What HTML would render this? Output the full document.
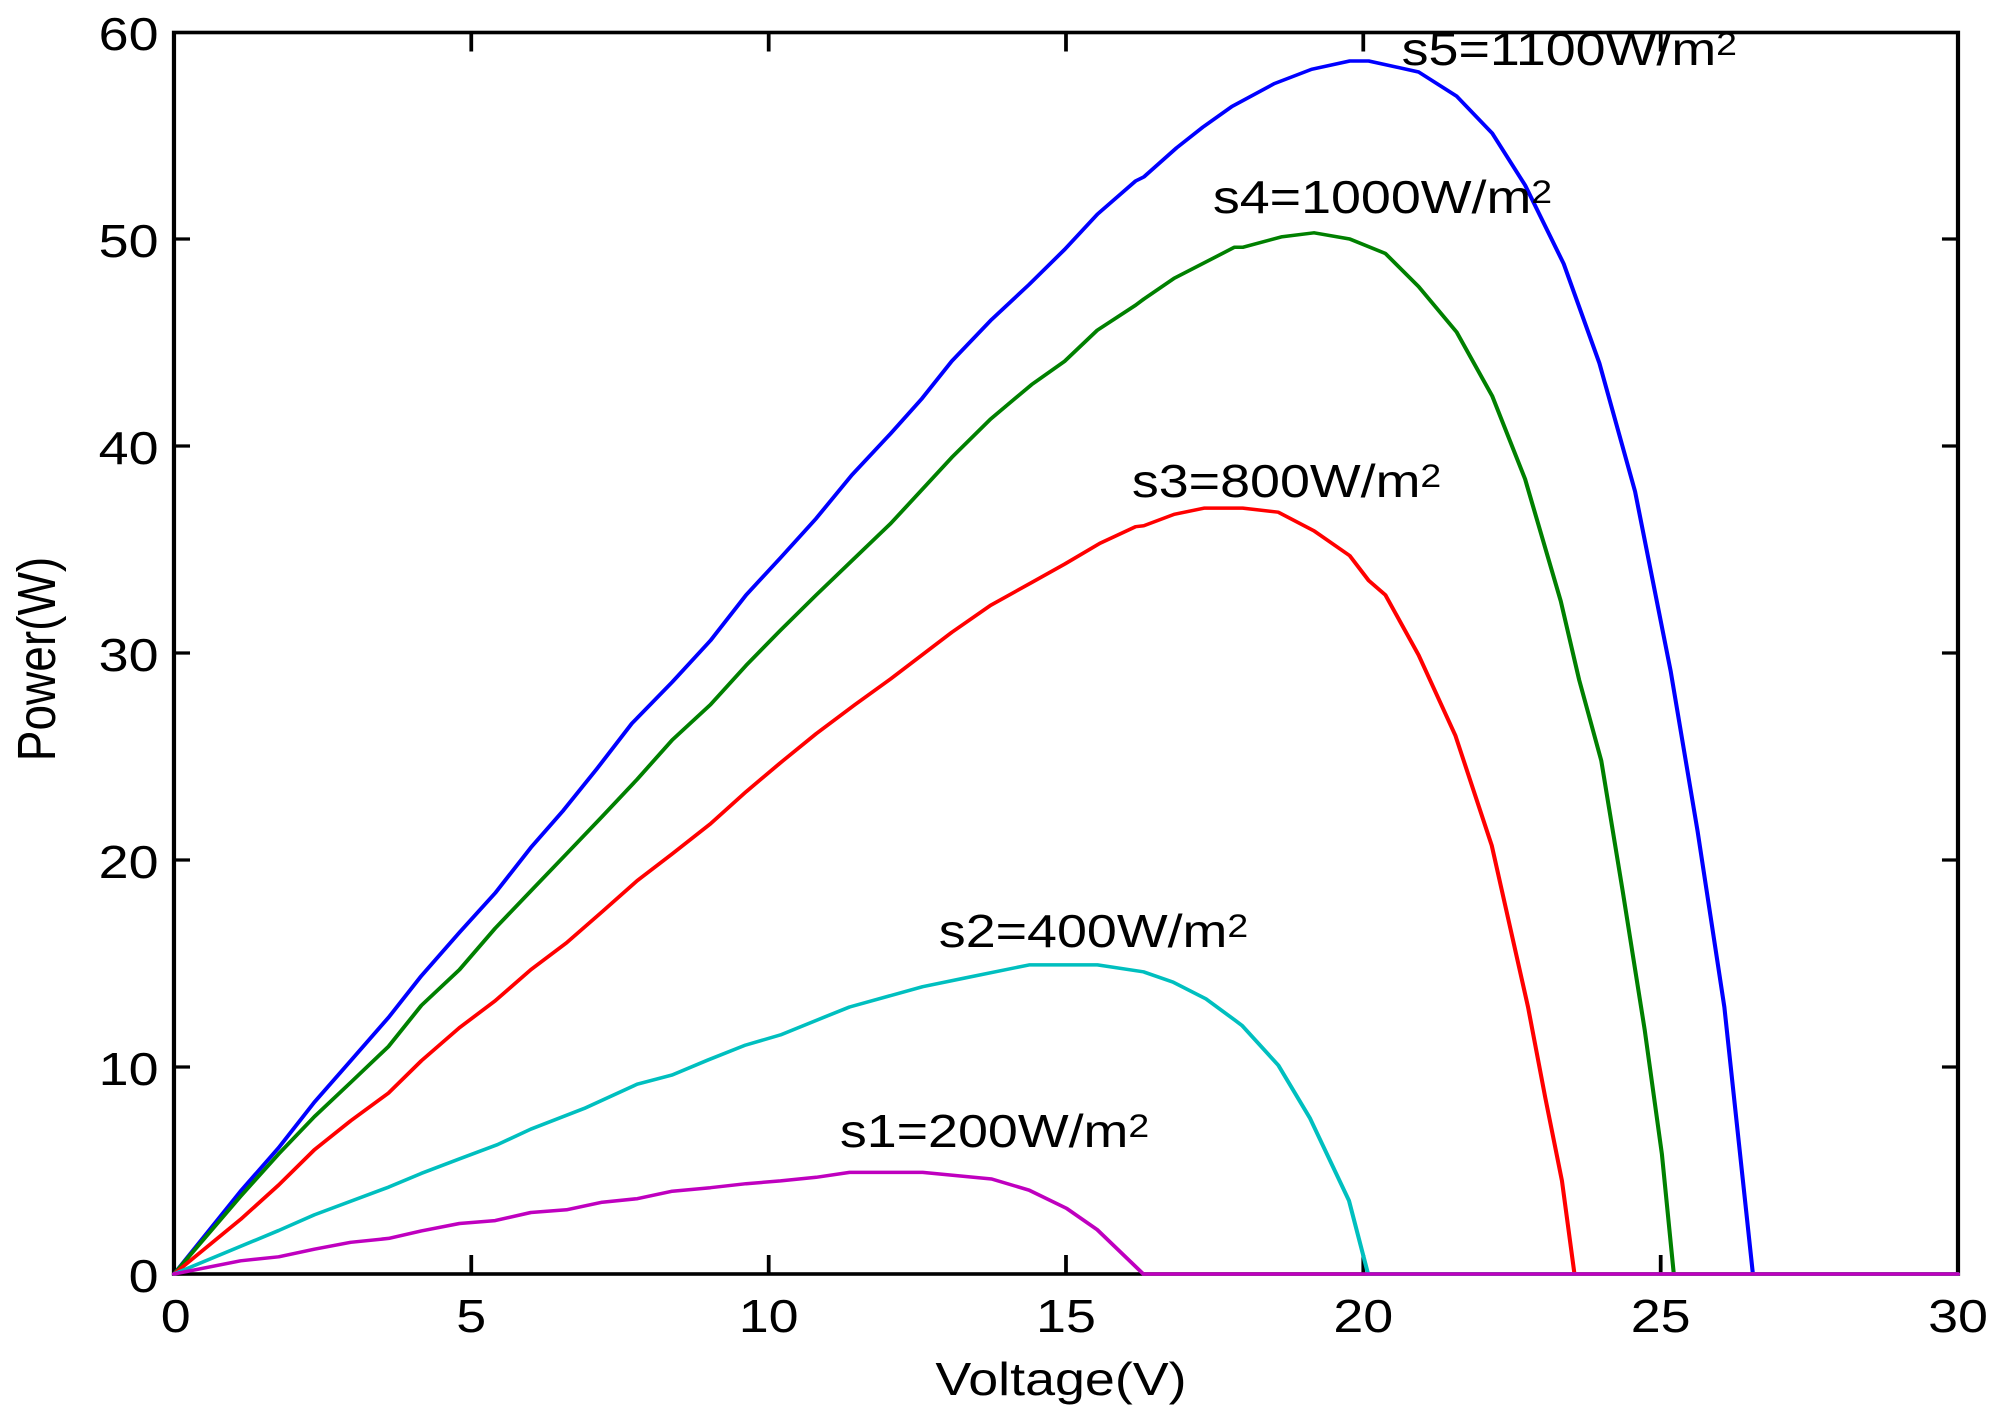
<!DOCTYPE html>
<html>
<head>
<meta charset="utf-8">
<style>
html,body{margin:0;padding:0;background:#fff;}
svg{display:block;}
text{font-family:"Liberation Sans",Arial,sans-serif;fill:#000;}
</style>
</head>
<body>
<svg width="2000" height="1420" viewBox="0 0 1709.4 1420" preserveAspectRatio="none" xmlns="http://www.w3.org/2000/svg">
<rect x="0" y="0" width="1709.4" height="1420" fill="#fff"/>
<!-- axes box -->
<rect x="148.7" y="32.5" width="1524.8" height="1241.5" fill="none" stroke="#000" stroke-width="3.6"/>
<!-- ticks -->
<g stroke="#000" stroke-width="3.2">
<path d="M402.8 1274V1255M657 1274V1255M911.1 1274V1255M1165.2 1274V1255M1419.4 1274V1255"/>
<path d="M402.8 32.5V51.5M657 32.5V51.5M911.1 32.5V51.5M1165.2 32.5V51.5M1419.4 32.5V51.5"/>
<path d="M148.7 1067H162.4M148.7 860H162.4M148.7 653H162.4M148.7 446H162.4M148.7 239H162.4"/>
<path d="M1673.5 1067H1659.8M1673.5 860H1659.8M1673.5 653H1659.8M1673.5 446H1659.8M1673.5 239H1659.8"/>
</g>
<!-- y tick labels -->
<g font-size="46" text-anchor="end">
<text x="135.5" y="1292">0</text>
<text x="135.5" y="1085">10</text>
<text x="135.5" y="878">20</text>
<text x="135.5" y="671">30</text>
<text x="135.5" y="464">40</text>
<text x="135.5" y="257">50</text>
<text x="135.5" y="50">60</text>
</g>
<!-- x tick labels -->
<g font-size="46" text-anchor="middle">
<text x="150.2" y="1332">0</text>
<text x="402.8" y="1332">5</text>
<text x="657" y="1332">10</text>
<text x="911.1" y="1332">15</text>
<text x="1165.2" y="1332">20</text>
<text x="1419.4" y="1332">25</text>
<text x="1673.5" y="1332">30</text>
</g>
<!-- axis labels -->
<text x="906.8" y="1395" font-size="46" text-anchor="middle">Voltage(V)</text>
<text x="47" y="659" font-size="46" text-anchor="middle" transform="rotate(-90 47 659)">Power(W)</text>

<g fill="none" stroke-width="3.5" stroke-linejoin="round" stroke-linecap="round">
<!-- s5 blue -->
<polyline stroke="#0000ff" points="148.7,1274 205.6,1191.2 238.2,1147.7 268.7,1102.2 299.7,1060.8 332.2,1017.3 360.1,975.9 392.7,932.4 423.2,893.1 453.7,847.6 481.6,810.3 510.1,768.9 540.1,723.4 574.6,682 607.2,640.6 637.7,595 667.1,557.8 697.6,518.4 728.1,475 761.2,433.6 788.1,398.4 813.5,361.1 846.6,320.6 879.6,284.5 910.1,249.3 938,214.2 970.6,181 977.7,176.9 1005.6,147.9 1028,127.2 1052.9,106.5 1089,83.7 1121,69.3 1153.6,61 1169.8,61 1212.5,72 1245,96.2 1275.5,133.4 1303.5,185.2 1336.5,263.8 1367,363.2 1397.5,491.5 1428,671.6 1450.9,831 1473.8,1007 1498.2,1274 1673.5,1274"/>
<!-- s4 green -->
<polyline stroke="#008000" points="148.7,1274 205.6,1196.4 238.2,1153.9 268.7,1116.7 299.7,1082.5 332.2,1046.3 360.1,1005.5 392.7,969.7 423.2,928.3 453.7,891 484.2,853.8 514.7,816.5 544.6,779.3 574.6,739.9 607.2,704.7 637.7,665.4 667.1,630.2 697.6,595 730.7,557.8 761.2,523.6 813.5,457.4 846.6,419.1 881.6,384.7 910.1,361.1 938,330.1 970.6,305.2 977.7,299 1003.6,278.3 1055,247.3 1062.1,247.3 1095.1,236.9 1123.1,232.8 1153.6,239 1184.1,253.5 1212.5,286.6 1245,332.1 1275.5,396.3 1303.5,479.1 1334,601.2 1349.7,679.9 1368.6,760.6 1386.9,891 1405.7,1029.7 1420.4,1153.9 1430.6,1274 1673.5,1274"/>
<!-- s3 red -->
<polyline stroke="#ff0000" points="148.7,1274 205.6,1219.4 238.2,1185 268.7,1149.8 299.7,1120.8 332.2,1092.9 360.1,1060.8 392.7,1027.7 423.2,1000.8 453.7,969.7 484.2,942.8 514.7,911.7 544.6,880.7 574.6,853.8 607.2,823.8 637.7,791.7 667.1,762.7 697.6,733.7 730.7,704.7 761.2,678.9 813.5,632.3 846.6,605.4 881.6,582.6 910.1,564 940.1,543.3 970.6,526.7 977.7,525.7 1003.6,514.3 1029.5,508.1 1062.1,508.1 1092.6,512.2 1123.1,530.9 1153.6,555.7 1169.8,580.5 1184.1,595 1212.5,655.1 1244,735.8 1275,845.5 1306,1007 1320.8,1098 1335,1180.8 1345.7,1274 1673.5,1274"/>
<!-- s2 cyan -->
<polyline stroke="#00bfbf" points="148.7,1274 238.2,1230.5 268.7,1214.8 332.2,1187.1 360.1,1173.4 392.7,1158.9 425.2,1144.6 453.7,1129.1 499.4,1108.4 544.6,1084.2 574.6,1074.9 605.1,1060 637.2,1045.1 667.1,1034.9 699.7,1019.4 726.1,1007 788.6,986.7 824.7,978 879.6,964.9 938,964.9 977.2,971.8 1002.6,982.1 1030.5,998.7 1055.5,1020.2 1061.6,1025.6 1092.6,1065.3 1119.5,1117.9 1153,1200.7 1169.3,1274 1673.5,1274"/>
<!-- s1 magenta -->
<polyline stroke="#bf00bf" points="148.7,1274 205.6,1260.8 238.2,1256.8 268.7,1249.2 299.7,1242.3 332.2,1238.4 360.1,1230.9 392.7,1223.5 423.2,1220.6 453.7,1212.5 484.2,1209.8 514.7,1202.2 544.6,1198.7 574.6,1191.2 607.2,1187.7 637.7,1183.7 667.1,1180.9 697.6,1177.3 726.1,1172.4 788.6,1172.4 847.6,1179 879.6,1190.2 911.6,1208.4 938,1229.9 977.2,1274 1673.5,1274"/>
</g>

<!-- curve labels -->
<g font-size="46">
<text x="1198" y="65">s5=1100W/m<tspan font-size="32" dy="-10">2</tspan></text>
<text x="1036.6" y="213">s4=1000W/m<tspan font-size="32" dy="-10">2</tspan></text>
<text x="967.4" y="497">s3=800W/m<tspan font-size="32" dy="-10">2</tspan></text>
<text x="802.4" y="947">s2=400W/m<tspan font-size="32" dy="-10">2</tspan></text>
<text x="717.8" y="1147">s1=200W/m<tspan font-size="32" dy="-10">2</tspan></text>
</g>
</svg>
</body>
</html>
